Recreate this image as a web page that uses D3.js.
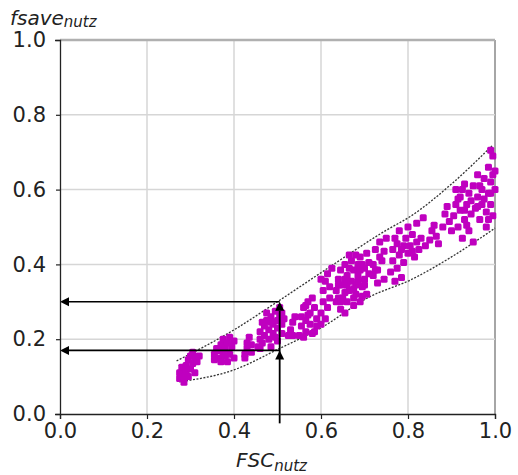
<!DOCTYPE html>
<html lang="en">
<head>
    <meta charset="UTF-8">
    <script src="https://d3js.org/d3.v7.min.js"></script>
    <title>fsave vs FSC</title>
    <style>
        body { margin: 0; background: #fff; }
        text { font-family: "DejaVu Sans", sans-serif; fill: #222; }
    </style>
</head>
<body>
    <div id="chart"></div>
    <script>
        const width = 518;
        const height = 475;

        // tick values on both axes
        const xTicks = [0, 0.2, 0.4, 0.6, 0.8, 1.0];
        const yTicks = [0, 0.2, 0.4, 0.6, 0.8, 1.0];

        // measured points (FSC, fsave)
        const samples = [
            [0.275, 0.095], [0.275, 0.11], [0.28, 0.125], [0.285, 0.10], [0.29, 0.115], [0.29, 0.13],
            [0.295, 0.145], [0.30, 0.12], [0.30, 0.155], [0.305, 0.135], [0.31, 0.15], [0.31, 0.11],
            [0.315, 0.14], [0.285, 0.085], [0.32, 0.155], [0.295, 0.10], [0.305, 0.165],
            [0.355, 0.145], [0.355, 0.16], [0.36, 0.175], [0.365, 0.15], [0.37, 0.185], [0.375, 0.16],
            [0.375, 0.20], [0.38, 0.175], [0.385, 0.14], [0.385, 0.19], [0.39, 0.205], [0.39, 0.16],
            [0.395, 0.18], [0.40, 0.15], [0.40, 0.195], [0.37, 0.14], [0.365, 0.17], [0.38, 0.155],
            [0.425, 0.16], [0.43, 0.175], [0.43, 0.19], [0.435, 0.205], [0.44, 0.165], [0.44, 0.185], [0.425, 0.15],
            [0.455, 0.18], [0.46, 0.20], [0.46, 0.22], [0.465, 0.19], [0.47, 0.21], [0.47, 0.235],
            [0.475, 0.25], [0.48, 0.20], [0.48, 0.225], [0.485, 0.26], [0.49, 0.24], [0.49, 0.215],
            [0.495, 0.275], [0.50, 0.25], [0.50, 0.23], [0.505, 0.285], [0.505, 0.26], [0.51, 0.24],
            [0.51, 0.27], [0.485, 0.18], [0.475, 0.27], [0.50, 0.195], [0.465, 0.245], [0.495, 0.205],
            [0.515, 0.255], [0.46, 0.175], [0.485, 0.245], [0.51, 0.215],
            [0.53, 0.225], [0.535, 0.245], [0.54, 0.26], [0.525, 0.21], [0.535, 0.21],
            [0.55, 0.21], [0.555, 0.235], [0.555, 0.26], [0.56, 0.285], [0.565, 0.22], [0.565, 0.25],
            [0.57, 0.30], [0.575, 0.27], [0.575, 0.24], [0.58, 0.215], [0.58, 0.31], [0.585, 0.285],
            [0.59, 0.255], [0.59, 0.235], [0.56, 0.205], [0.57, 0.265], [0.585, 0.22], [0.565, 0.29],
            [0.60, 0.24], [0.60, 0.27], [0.605, 0.30], [0.605, 0.33], [0.61, 0.355], [0.61, 0.255],
            [0.615, 0.285], [0.615, 0.375], [0.62, 0.31], [0.62, 0.34], [0.625, 0.39], [0.60, 0.36],
            [0.635, 0.30], [0.635, 0.33], [0.64, 0.36], [0.645, 0.385], [0.645, 0.28], [0.65, 0.31],
            [0.65, 0.345], [0.655, 0.40], [0.66, 0.37], [0.66, 0.30], [0.665, 0.33], [0.67, 0.355],
            [0.67, 0.41], [0.675, 0.29], [0.675, 0.385], [0.68, 0.32], [0.68, 0.345], [0.685, 0.37],
            [0.69, 0.42], [0.69, 0.30], [0.695, 0.34], [0.70, 0.39], [0.70, 0.36], [0.705, 0.43],
            [0.705, 0.32], [0.71, 0.405], [0.665, 0.425], [0.655, 0.27], [0.685, 0.40], [0.64, 0.31],
            [0.64, 0.345], [0.655, 0.325], [0.655, 0.36], [0.665, 0.39], [0.675, 0.335], [0.675, 0.31],
            [0.685, 0.355], [0.69, 0.385], [0.695, 0.315], [0.70, 0.345], [0.645, 0.3], [0.66, 0.345],
            [0.71, 0.375], [0.68, 0.425], [0.695, 0.4],
            [0.72, 0.37], [0.72, 0.40], [0.725, 0.44], [0.73, 0.385], [0.735, 0.46], [0.74, 0.41],
            [0.745, 0.36], [0.745, 0.435], [0.75, 0.47], [0.73, 0.35], [0.735, 0.42], [0.725, 0.385],
            [0.76, 0.38], [0.765, 0.41], [0.765, 0.44], [0.77, 0.47], [0.775, 0.39], [0.78, 0.425],
            [0.78, 0.49], [0.785, 0.365], [0.79, 0.45], [0.79, 0.405], [0.795, 0.47], [0.80, 0.43],
            [0.80, 0.50], [0.77, 0.355], [0.775, 0.455], [0.785, 0.44],
            [0.805, 0.45], [0.81, 0.48], [0.815, 0.42], [0.82, 0.46], [0.82, 0.51], [0.825, 0.44],
            [0.83, 0.47], [0.835, 0.525], [0.84, 0.45], [0.81, 0.435],
            [0.85, 0.465], [0.855, 0.49], [0.86, 0.505], [0.865, 0.475], [0.87, 0.455],
            [0.88, 0.50], [0.885, 0.535], [0.89, 0.555], [0.895, 0.515], [0.90, 0.49],
            [0.905, 0.53], [0.91, 0.56], [0.91, 0.60], [0.915, 0.50], [0.92, 0.545], [0.92, 0.58],
            [0.925, 0.47], [0.93, 0.52], [0.93, 0.615], [0.935, 0.56], [0.94, 0.49], [0.94, 0.59],
            [0.945, 0.535], [0.95, 0.61], [0.95, 0.46], [0.915, 0.575], [0.925, 0.6], [0.935, 0.505],
            [0.945, 0.57], [0.93, 0.545],
            [0.955, 0.55], [0.96, 0.58], [0.96, 0.64], [0.965, 0.52], [0.97, 0.60], [0.97, 0.56],
            [0.975, 0.63], [0.98, 0.50], [0.98, 0.54], [0.985, 0.59], [0.985, 0.66], [0.99, 0.62],
            [0.99, 0.56], [0.995, 0.69], [0.995, 0.53], [1.0, 0.60], [1.0, 0.65], [0.99, 0.705],
            [0.965, 0.61], [0.975, 0.575], [0.985, 0.52], [0.995, 0.64], [0.99, 0.59], [0.96, 0.555]
        ];

        // dotted envelope around the cloud
        const upperBound = [[0.268, 0.142], [0.40, 0.225], [0.506, 0.305], [0.621, 0.394], [0.751, 0.492], [0.805, 0.528], [0.90, 0.615], [0.993, 0.717]];
        const lowerBound = [[0.274, 0.086], [0.40, 0.118], [0.506, 0.176], [0.598, 0.229], [0.713, 0.314], [0.805, 0.358], [0.90, 0.42], [1.0, 0.497]];

        // reading example: FSC = 0.505 gives fsave between 0.17 and 0.30
        const readX = 0.505;
        const readY = [0.17, 0.30];

        const svg = d3.select("#chart")
            .append("svg")
            .attr("width", width)
            .attr("height", height);

        const x = d3.scaleLinear().domain([0, 1]).range([60, 495]);
        const y = d3.scaleLinear().domain([0, 1]).range([414, 40]);

        // grid
        svg.append("g").selectAll("line")
            .data(xTicks.slice(1))
            .enter().append("line")
            .attr("x1", d => x(d)).attr("x2", d => x(d))
            .attr("y1", y(0)).attr("y2", y(1))
            .attr("stroke", d => d === 1 ? "#888" : "#d6d6d6")
            .attr("stroke-width", 1.5);

        svg.append("g").selectAll("line")
            .data(yTicks.slice(1))
            .enter().append("line")
            .attr("x1", x(0)).attr("x2", x(1))
            .attr("y1", d => y(d)).attr("y2", d => y(d))
            .attr("stroke", d => d === 1 ? "#b0b0b0" : "#d6d6d6")
            .attr("stroke-width", d => d === 1 ? 2.5 : 1.5);

        // envelope
        const line = d3.line()
            .x(d => x(d[0]))
            .y(d => y(d[1]))
            .curve(d3.curveMonotoneX);

        [upperBound, lowerBound].forEach(b => {
            svg.append("path")
                .attr("d", line(b))
                .attr("fill", "none")
                .attr("stroke", "#333")
                .attr("stroke-width", 1.3)
                .attr("stroke-dasharray", "2,1.5");
        });

        // scatter
        const s = 7;
        svg.append("g").selectAll("rect")
            .data(samples)
            .enter().append("rect")
            .attr("x", d => x(d[0]) - s / 2)
            .attr("y", d => y(d[1]) - s / 2)
            .attr("width", s)
            .attr("height", s)
            .attr("rx", 1.5)
            .attr("fill", "#bf00bf");

        // reading arrows
        const arrowLen = 9, arrowHalf = 4.5;
        readY.forEach(v => {
            svg.append("line")
                .attr("x1", x(readX)).attr("x2", x(0) + arrowLen)
                .attr("y1", y(v)).attr("y2", y(v))
                .attr("stroke", "#000").attr("stroke-width", 1.6);
            svg.append("path")
                .attr("d", `M${x(0)},${y(v)}L${x(0) + arrowLen},${y(v) - arrowHalf}L${x(0) + arrowLen},${y(v) + arrowHalf}Z`)
                .attr("fill", "#000");
            svg.append("path")
                .attr("d", `M${x(readX)},${y(v)}L${x(readX) - arrowHalf},${y(v) + arrowLen}L${x(readX) + arrowHalf},${y(v) + arrowLen}Z`)
                .attr("fill", "#000");
        });
        svg.append("line")
            .attr("x1", x(readX)).attr("x2", x(readX))
            .attr("y1", y(-0.025)).attr("y2", y(d3.max(readY)) + arrowLen)
            .attr("stroke", "#000").attr("stroke-width", 1.8);

        // axes
        const xAxis = svg.append("g")
            .attr("transform", `translate(0,${y(0)})`)
            .call(d3.axisBottom(x).tickValues(xTicks).tickFormat(d3.format(".1f")).tickSize(5).tickPadding(4));
        const yAxis = svg.append("g")
            .attr("transform", `translate(${x(0)},0)`)
            .call(d3.axisLeft(y).tickValues(yTicks).tickFormat(d3.format(".1f")).tickSize(5).tickPadding(9));
        [xAxis, yAxis].forEach(a => {
            a.select(".domain").attr("stroke", "#222").attr("stroke-width", 1.3);
            a.selectAll(".tick line").attr("stroke", "#222").attr("stroke-width", 1.2);
            a.selectAll(".tick text").attr("font-size", 21).attr("fill", "#222")
                .attr("font-family", "DejaVu Sans, sans-serif");
        });
        yAxis.selectAll(".tick line").attr("x2", -4);

        // axis titles
        const yTitle = svg.append("text")
            .attr("x", 10).attr("y", 25)
            .attr("font-size", 20).attr("font-style", "italic");
        yTitle.append("tspan").text("fsave");
        yTitle.append("tspan").attr("font-size", 15).attr("dy", 2).text("nutz");

        const xTitle = svg.append("text")
            .attr("x", 236).attr("y", 467)
            .attr("font-size", 20).attr("font-style", "italic");
        xTitle.append("tspan").text("FSC");
        xTitle.append("tspan").attr("font-size", 15).attr("dy", 4).text("nutz");
    </script>
</body>
</html>
